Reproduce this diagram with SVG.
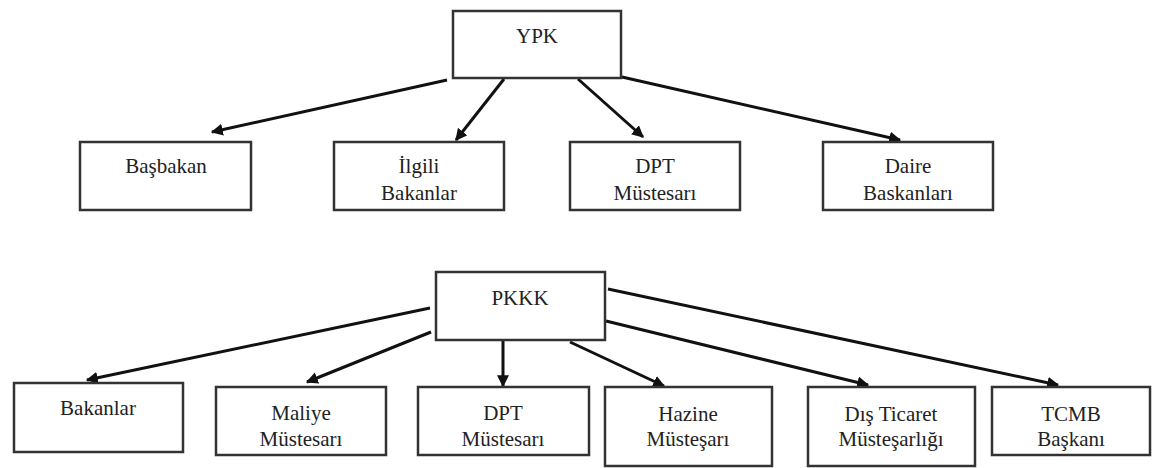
<svg xmlns="http://www.w3.org/2000/svg" width="1155" height="468" viewBox="0 0 1155 468">
<style>
.box{fill:#fff;stroke:#333;stroke-width:2.5}
.t{font-family:"Liberation Serif","Times New Roman",serif;font-size:21px;fill:#222;text-anchor:middle}
.c{stroke:#111;stroke-width:3;fill:none;marker-end:url(#ah)}
</style>
<defs>
<marker id="ah" viewBox="0 0 10 10" refX="9" refY="5" markerWidth="4" markerHeight="4" orient="auto" markerUnits="strokeWidth">
<path d="M0,0 L10,5 L0,10 z" fill="#111"/>
</marker>
</defs>
<rect width="1155" height="468" fill="#fff"/>
<g id="connectors">
<line class="c" x1="447" y1="80" x2="212" y2="132"/>
<line class="c" x1="504" y1="79" x2="456" y2="140"/>
<line class="c" x1="578" y1="79" x2="643" y2="137"/>
<line class="c" x1="622" y1="77" x2="900" y2="140"/>
<line class="c" x1="430" y1="308" x2="87" y2="380"/>
<line class="c" x1="431" y1="332" x2="307" y2="382"/>
<line class="c" x1="503" y1="340" x2="503" y2="386"/>
<line class="c" x1="570" y1="342" x2="664" y2="386"/>
<line class="c" x1="606" y1="321" x2="868" y2="385"/>
<line class="c" x1="608" y1="289" x2="1058" y2="385"/>
</g>
<g id="ypk"><rect class="box" x="453" y="11" width="168" height="67"/><text class="t" x="537" y="43">YPK</text></g>
<g id="basbakan"><rect class="box" x="80" y="142" width="171" height="68"/><text class="t" x="166" y="173">Başbakan</text></g>
<g id="ilgili"><rect class="box" x="334" y="142" width="170" height="68"/><text class="t" x="419" y="173">İlgili</text><text class="t" x="419" y="200">Bakanlar</text></g>
<g id="dpt1"><rect class="box" x="570" y="142" width="170" height="68"/><text class="t" x="655" y="173">DPT</text><text class="t" x="655" y="200">Müstesarı</text></g>
<g id="daire"><rect class="box" x="823" y="142" width="170" height="68"/><text class="t" x="908" y="173">Daire</text><text class="t" x="908" y="200">Baskanları</text></g>
<g id="pkkk"><rect class="box" x="436" y="272" width="169" height="68"/><text class="t" x="520" y="305">PKKK</text></g>
<g id="bakanlar"><rect class="box" x="14" y="383" width="169" height="69"/><text class="t" x="98" y="415">Bakanlar</text></g>
<g id="maliye"><rect class="box" x="216" y="387" width="170" height="68"/><text class="t" x="301" y="420">Maliye</text><text class="t" x="301" y="446">Müstesarı</text></g>
<g id="dpt2"><rect class="box" x="418" y="387" width="171" height="68"/><text class="t" x="503" y="420">DPT</text><text class="t" x="503" y="446">Müstesarı</text></g>
<g id="hazine"><rect class="box" x="605" y="387" width="167" height="79"/><text class="t" x="688" y="421">Hazine</text><text class="t" x="688" y="446">Müsteşarı</text></g>
<g id="dis"><rect class="box" x="808" y="387" width="167" height="79"/><text class="t" x="891" y="421">Dış Ticaret</text><text class="t" x="891" y="446">Müsteşarlığı</text></g>
<g id="tcmb"><rect class="box" x="992" y="387" width="158" height="68"/><text class="t" x="1071" y="421">TCMB</text><text class="t" x="1071" y="446">Başkanı</text></g>
</svg>
